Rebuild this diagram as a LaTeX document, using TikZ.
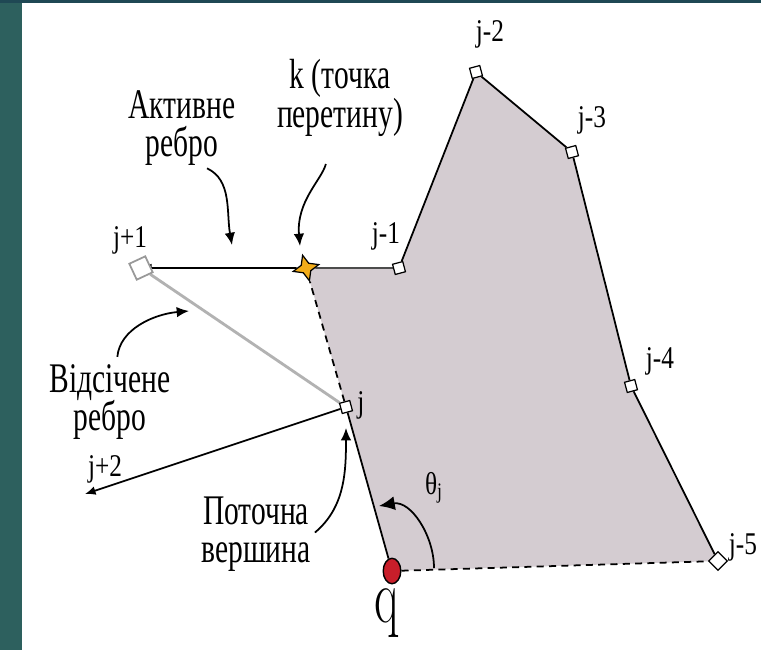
\documentclass[tikz,border=0pt]{standalone}
\usepackage{fontspec}
\newfontfamily\notefont[FakeStretch=0.7]{Liberation Serif}
\newfontfamily\tagfont[FakeStretch=0.8]{Liberation Serif}
\usetikzlibrary{arrows.meta,positioning,shapes.geometric,backgrounds}
\definecolor{framebar}{RGB}{45,96,94}
\definecolor{topbar}{RGB}{31,72,84}
\definecolor{polyfill}{RGB}{212,204,209}
\definecolor{qred}{RGB}{200,30,42}
\definecolor{kstar}{RGB}{242,172,26}

\begin{document}
\begin{tikzpicture}[
  x=0.02cm, y=-0.02cm,
  vert/.style={rectangle, draw=black, fill=white, line width=0.7pt,
    minimum size=6pt, inner sep=0pt, rotate=15},
  tag/.style={font=\tagfont\fontsize{18}{18}\selectfont, inner sep=0pt},
  note/.style={font=\notefont\fontsize{24}{22}\selectfont, align=center, inner sep=0pt},
  side/.style={line width=1pt},
  cut/.style={line width=1pt, dash pattern=on 4pt off 3pt},
  arrow/.style={-{Latex[length=6pt,width=5pt]}, line width=1pt},
  bendarrow/.style={-{Latex[length=7pt,width=6pt]}, line width=1pt}
]
\useasboundingbox (0,0) rectangle (761,650);

% polygon vertices
\node[vert] (jm1) at (399,268) {};
\node[vert] (jm2) at (476,72) {};
\node[vert] (jm3) at (572,152) {};
\node[vert] (jm4) at (631,386) {};
\node[vert, minimum size=7.5pt, rotate=30] (jm5) at (718,561) {};
\node[vert] (jj) at (346,407) {};
\node[vert, draw=black!40, line width=1pt, minimum size=10pt, rotate=10] (jp1) at (141,268) {};
\node[star, star points=4, star point ratio=2.4, draw, fill=kstar, line width=0.7pt,
  minimum size=15pt, inner sep=0pt, rotate=15] (k) at (306,268) {};
\node[ellipse, draw, fill=qred, line width=0.8pt, minimum width=10pt,
  minimum height=14.5pt, inner sep=0pt] (q) at (392,571) {};
\coordinate (jp2) at (85,494);

% vertex labels
\node[tag] (tjp1) at (130,240) {j+1};
\node[tag] (tjm1) at (386,236) {j-1};
\node[tag] (tjm2) at (490,34) {j-2};
\node[tag] (tjm3) at (592,120) {j-3};
\node[tag] (tjm4) at (660,361) {j-4};
\node[tag] (tjm5) at (743,547) {j-5};
\node[tag, right=3pt of jj] (tj) {j};
\node[tag] (tjp2) at (105,469) {j+2};
\node[font=\fontsize{44}{44}\selectfont, inner sep=0pt, xscale=0.65] (tq) at (387,613) {q};
\node[tag] (theta) at (434,488) {θ\textsubscript{j}};

% notes
\node[note] (akt) at (182,128) {Активне\\ребро};
\node[note] (kn) at (340,98) {k (точка\\перетину)};
\node[note] (vid) at (110,402) {Відсічене\\ребро};
\node[note] (pot) at (256,534) {Поточна\\вершина};

% arrow ends
\coordinate (aktTip) at (232,245);
\coordinate (knTip) at (300,246);
\coordinate (vidTip) at (189,311);
\coordinate (potTip) at (346,428);
\coordinate (thS) at (434,568);
\coordinate (thE) at (379,506);

\draw[bendarrow, shorten <=3pt] (akt.-62) to[out=-25, in=100] (aktTip);
\draw[bendarrow, shorten <=16pt] (kn.-100) to[out=-105, in=95] (knTip);
\draw[bendarrow, shorten <=4pt] (vid.80) to[out=85, in=185] (vidTip);
\draw[bendarrow, shorten <=3pt] (pot.-2) to[out=40, in=-90] (potTip);
\draw[bendarrow, -{Latex[length=9pt,width=8pt]}] (thS) to[out=90, in=10] (thE);

\begin{scope}[on background layer]
  \fill[white] (0,0) rectangle (761,650);
  \fill[framebar] (0,0) rectangle (22,650);
  \fill[topbar] (0,0) rectangle (761,3);
  \fill[polyfill] (k.center) -- (jm1.center) -- (jm2.center) -- (jm3.center)
    -- (jm4.center) -- (jm5.center) -- (q.center) -- (jj.center) -- cycle;
  \draw[side, black!70] (jm1) -- (k);
  \draw[arrow] (k) -- (jp1.center);
  \draw[line width=1.6pt, black!30] (jp1) -- (jj);
  \draw[arrow] (jj) -- (jp2);
  \draw[side] (q) -- (jj);
  \draw[cut] (jj) -- (k);
  \draw[cut] (q) -- (jm5);
  \draw[side] (jm1) -- (jm2) -- (jm3) -- (jm4) -- (jm5);
\end{scope}
\end{tikzpicture}
\end{document}
